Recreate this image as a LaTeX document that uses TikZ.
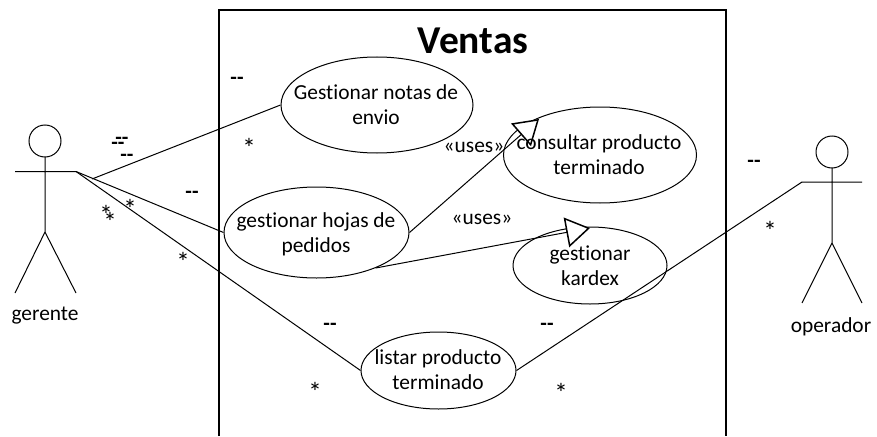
\documentclass[tikz,border=0pt]{standalone}
\usepackage{fontspec}
\setmainfont[Ligatures=NoCommon]{Carlito}
\usetikzlibrary{arrows.meta}
\usetikzlibrary{shapes.geometric}

\tikzset{
  usecase/.style={draw=black, ellipse, inner sep=0pt},
  casetext/.style={align=center, font=\fontsize{21.4}{25}\selectfont, inner sep=0pt},
  dashmult/.style={font=\fontsize{21.4}{22}\selectfont\bfseries, inner sep=0pt},
  starmult/.style={font=\fontsize{27}{28}\selectfont, inner sep=0pt},
  uses/.style={-{Triangle[fill=white, length=24pt, width=30pt, line width=1.5pt]}},
}

\begin{document}
\begin{tikzpicture} [x=1pt, y=-1pt, line width=1pt]
\useasboundingbox (0,0) rectangle (877,436);

% system box
\draw[black, line width=1.4pt] (219,436)--(219,10)--(726,10)--(726,436);
\node[font=\fontsize{39.5}{40}\selectfont\bfseries, inner sep=0pt] (ventas) at (473,41) {Ventas};

% use cases
\node[usecase, minimum width=192pt, minimum height=96pt] (notas) at (377,105) {};
\node[usecase, minimum width=193pt, minimum height=96pt] (consultar) at (600,155) {};
\node[usecase, minimum width=185pt, minimum height=91pt] (hojas) at (316.5,232.5) {};
\node[usecase, minimum width=154pt, minimum height=77pt] (kardex) at (590,265.5) {};
\node[usecase, minimum width=155pt, minimum height=77pt] (listar) at (438.5,370.5) {};

% actors
\draw (45,141) circle (16);
\draw (45,157)--(45,232) (15,171.5)--(76,171.5) (15,293)--(45,232)--(76,293);
\draw (832,152) circle (16);
\draw (832,168)--(832,243) (802,182)--(862,182) (802,303)--(832,243)--(862,303);
\coordinate (hand1) at (76,171.5);
\coordinate (hand1b) at (92,179);
\coordinate (hand2) at (802,182);
\node[casetext] (gerente) at (45,316) {gerente};
\node[casetext] (operador) at (831,327) {operador};

% connectors
\draw (hand1b)--(notas.west);
\draw (hand1)--(hojas.west);
\draw (hand1)--(listar.west);
\draw (hand2)--(listar.east);

\coordinate (tip1) at (539,119);
\coordinate (tip2) at (590,228);
\draw[uses] (hojas.east)--(tip1);
\draw[uses] (hojas.-31)--(tip2);
\node[casetext] (uses1) at (474,147) {«uses»};
\node[casetext] (uses2) at (482,219) {«uses»};

\node[casetext] (notastxt) at (376,105) {Gestionar notas de\\envio};
\node[casetext] (consultartxt) at (599,155) {consultar producto\\terminado};
\node[casetext] (hojastxt) at (316,234) {gestionar hojas de\\pedidos};
\node[casetext] (kardextxt) at (590,266) {gestionar\\kardex};
\node[casetext] (listartxt) at (438,370) {listar producto\\terminado};

% multiplicities
\foreach \x/\y [count=\i] in {122/141, 118/146, 127/158, 192/195, 237/81, 754/164, 330/327, 547/327}
 \node[dashmult] (dash\i) at (\x,\y) {-{}-};
\foreach \x/\y [count=\i] in {249/148, 106/215, 110/222, 130/209, 183/262, 770/231, 315/392, 561/393}
 \node[starmult] (star\i) at (\x,\y) {*};

\end{tikzpicture}
\end{document}
